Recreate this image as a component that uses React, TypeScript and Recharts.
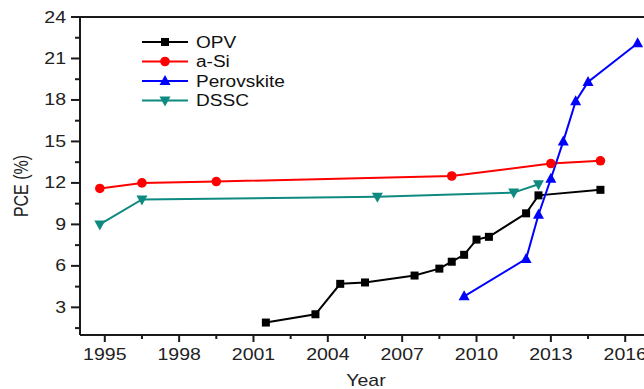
import { LineChart, Line, XAxis, YAxis, ReferenceLine } from "recharts";

const opvYear = [2001.5, 2003.5, 2004.5, 2005.5, 2007.5, 2008.5, 2009, 2009.5, 2010, 2010.5, 2012, 2012.5, 2015];
const opvPce = [1.9, 2.5, 4.7, 4.8, 5.3, 5.8, 6.3, 6.8, 7.9, 8.1, 9.8, 11.1, 11.5];

const aSiYear = [1994.8, 1996.5, 1999.5, 2009, 2013, 2015];
const aSiPce = [11.6, 12.0, 12.1, 12.5, 13.4, 13.6];

const perovskiteYear = [2009.5, 2012, 2012.5, 2013, 2013.5, 2014, 2014.5, 2016.5];
const perovskitePce = [3.8, 6.5, 9.7, 12.3, 15.0, 17.9, 19.3, 22.1];

const dsscYear = [1994.8, 1996.5, 2006, 2011.5, 2012.5];
const dsscPce = [9.0, 10.8, 11.0, 11.3, 11.9];

const xMajor = [1995, 1998, 2001, 2004, 2007, 2010, 2013, 2016];
const xMinor = [1996.5, 1999.5, 2002.5, 2005.5, 2008.5, 2011.5, 2014.5];
const yMajor = [3, 6, 9, 12, 15, 18, 21, 24];
const yMinor = [1.5, 4.5, 7.5, 10.5, 13.5, 16.5, 19.5, 22.5];

const FONT = "'Liberation Sans', Arial, sans-serif";
const AXIS = "#1a1a1a";
const TEXT = "#222";
const STRETCH = 1.22; // source image text is drawn wide

type Shape = "square" | "circle" | "up" | "down";

const series: { name: string; color: string; shape: Shape; years: number[]; pce: number[] }[] = [
  { name: "OPV", color: "#000000", shape: "square", years: opvYear, pce: opvPce },
  { name: "a-Si", color: "#ff0000", shape: "circle", years: aSiYear, pce: aSiPce },
  { name: "Perovskite", color: "#0000ff", shape: "up", years: perovskiteYear, pce: perovskitePce },
  { name: "DSSC", color: "#0f8a80", shape: "down", years: dsscYear, pce: dsscPce },
];

const Marker = ({ cx, cy, shape, color }: { cx: number; cy: number; shape: Shape; color: string }) => {
  if (shape === "square") return <rect x={cx - 4} y={cy - 4} width={8} height={8} fill={color} />;
  if (shape === "circle") return <circle cx={cx} cy={cy} r={4.8} fill={color} />;
  if (shape === "up")
    return <polygon points={`${cx},${cy - 6} ${cx - 5.5},${cy + 4} ${cx + 5.5},${cy + 4}`} fill={color} />;
  return <polygon points={`${cx - 5.5},${cy - 4} ${cx + 5.5},${cy - 4} ${cx},${cy + 6}`} fill={color} />;
};

const dotFor = (shape: Shape, color: string) => (props: any) =>
  <Marker key={props.key ?? `${props.cx}-${props.cy}`} cx={props.cx} cy={props.cy} shape={shape} color={color} />;

const WideText = ({ x, y, anchor = "start", children }: any) => (
  <g transform={`translate(${x},${y}) scale(${STRETCH},1)`}>
    <text x={0} y={0} textAnchor={anchor} fontSize={16} fontFamily={FONT} fill={TEXT}>
      {children}
    </text>
  </g>
);

const XTick = ({ x, y, payload }: any) => {
  const major = xMajor.includes(payload.value);
  return (
    <g>
      <line x1={x} x2={x} y1={y} y2={y + (major ? 7 : 4)} stroke={AXIS} strokeWidth={2} />
      {major && (
        <WideText x={x} y={y + 25} anchor="middle">
          {payload.value}
        </WideText>
      )}
    </g>
  );
};

const YTick = ({ x, y, payload }: any) => {
  const major = yMajor.includes(payload.value);
  return (
    <g>
      <line x1={x} x2={x - (major ? 9 : 5)} y1={y} y2={y} stroke={AXIS} strokeWidth={2} />
      {major && (
        <WideText x={x - 14} y={y + 5.5} anchor="end">
          {payload.value}
        </WideText>
      )}
    </g>
  );
};

// legend drawn over the plot, top left
const legendRowY = [42, 61.5, 81, 100.5];

const LegendOverlay = () => (
  <svg width={644} height={389} style={{ position: "absolute", left: 0, top: 0, pointerEvents: "none" }}>
    {series.map((s, i) => (
      <g key={s.name}>
        <line x1={142} x2={188} y1={legendRowY[i]} y2={legendRowY[i]} stroke={s.color} strokeWidth={2} />
        <Marker cx={165} cy={legendRowY[i]} shape={s.shape} color={s.color} />
        <g transform={`translate(196,${legendRowY[i] + 5.8}) scale(1.19,1)`}>
          <text fontSize={16} fontFamily={FONT} fill="#111">
            {s.name}
          </text>
        </g>
      </g>
    ))}
  </svg>
);

export default function App() {
  return (
    <div
      style={{
        position: "fixed",
        left: 0,
        top: 0,
        width: 644,
        height: 389,
        overflow: "hidden",
        background: "#fff",
      }}
    >
      <LineChart width={660} height={389} margin={{ top: 17, right: 10, bottom: 0, left: 0 }}>
        <XAxis
          type="number"
          dataKey="year"
          domain={[1994, 2017]}
          ticks={[...xMajor, ...xMinor].sort((a, b) => a - b)}
          interval={0}
          allowDataOverflow
          height={54}
          tickSize={0}
          tickMargin={0}
          tickLine={false}
          axisLine={{ stroke: AXIS, strokeWidth: 2 }}
          tick={<XTick />}
          label={() => (
            <WideText x={366} y={385.5} anchor="middle">
              Year
            </WideText>
          )}
        />
        <YAxis
          type="number"
          dataKey="pce"
          domain={[1, 24]}
          ticks={[...yMajor, ...yMinor].sort((a, b) => a - b)}
          interval={0}
          allowDataOverflow
          width={80}
          tickSize={0}
          tickMargin={0}
          tickLine={false}
          axisLine={{ stroke: AXIS, strokeWidth: 2 }}
          tick={<YTick />}
          label={() => (
            <g transform={`translate(21,186) scale(${STRETCH},1) rotate(-90)`}>
              <text x={0} y={5.7} textAnchor="middle" fontSize={16} fontFamily={FONT} fill={TEXT}>
                PCE (%)
              </text>
            </g>
          )}
        />
        <ReferenceLine y={24} stroke={AXIS} strokeWidth={2} />
        <ReferenceLine x={2017} stroke={AXIS} strokeWidth={2} />
        {series.map((s) => (
          <Line
            key={s.name}
            name={s.name}
            data={s.years.map((year, i) => ({ year, pce: s.pce[i] }))}
            dataKey="pce"
            stroke={s.color}
            strokeWidth={2}
            dot={dotFor(s.shape, s.color)}
            activeDot={false}
            isAnimationActive={false}
          />
        ))}
      </LineChart>
      <LegendOverlay />
    </div>
  );
}
